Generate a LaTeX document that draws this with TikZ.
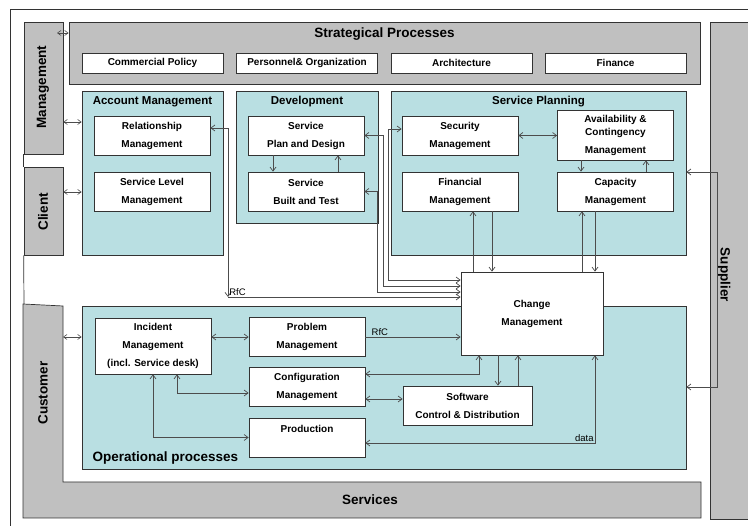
\documentclass[tikz,border=0pt]{standalone}
\usepackage{fontspec}
\setmainfont{Liberation Sans}
\usetikzlibrary{arrows.meta}
\definecolor{procteal}{RGB}{185,223,226}
\definecolor{bargray}{RGB}{192,192,192}

\begin{document}
\begin{tikzpicture}[
  x=1pt, y=-1pt,
  font=\bfseries\fontsize{10}{18}\selectfont,
  >={Straight Barb[length=4pt,width=6pt]},
  box/.style={draw=black!80, fill=white, line width=0.7pt, align=center, inner sep=0pt, minimum width=116pt, minimum height=39pt},
  subbox/.style={box, minimum width=141pt, minimum height=20pt},
  group/.style={draw=black!80, fill=procteal, line width=0.7pt, inner sep=0pt},
  bar/.style={draw=black!80, fill=bargray, line width=0.7pt, inner sep=0pt},
  grouptitle/.style={font=\bfseries\fontsize{11.5}{14}\selectfont},
  bigtitle/.style={font=\bfseries\fontsize{13.5}{16}\selectfont},
  link/.style={draw=black!70, line width=0.7pt},
  tag/.style={font=\fontsize{9.5}{11}\selectfont, inner sep=1pt},
  dbl/.style={draw=black!70, line width=0.6pt, {Straight Barb[length=3.5pt,width=5pt]}-{Straight Barb[length=3.5pt,width=5pt]}}
]
\useasboundingbox (0,0) rectangle (748,526);
\clip (0,0) rectangle (748,526);
\fill[white] (0,0) rectangle (748,526);
\draw[black!80, line width=0.8pt] (10,9) rectangle (780,560);

\node[bar, minimum width=631pt, minimum height=62pt] (strat) at (384.5,53) {};
\node[bigtitle] (stratt) at ([yshift=-12pt]strat.north) {Strategical Processes};
\node[subbox] (cp) at (152.5,63) {Commercial Policy};
\node[subbox] (po) at (307,63) {Personnel\& Organization};
\node[subbox] (arch) at (461.5,63) {Architecture};
\node[subbox] (finance) at (615.5,63) {Finance};

\node[bar, minimum width=39pt, minimum height=132pt] (mgmt) at (43.5,88) {};
\node[bar, minimum width=39pt, minimum height=88pt] (client) at (43.5,211) {};
\node[bar, minimum width=50pt, minimum height=497pt] (supplier) at (735,270.5) {};
\draw[bar] (23,304) -- (63,306) -- (63,482) -- (701,482) -- (701,518) -- (23,518) -- cycle;
\draw[black!80, line width=0.7pt] (mgmt.south west) -- (client.north west);
\draw[black!80, line width=0.7pt] (client.south west) -- (24,304);
\node[bigtitle, rotate=90] (mgmtt) at (43,87) {Management};
\node[bigtitle, rotate=90] (clientt) at (43,212) {Client};
\node[bigtitle, rotate=90] (custt) at (43,393) {Customer};
\node[bigtitle, rotate=-90] (suppt) at (724,275) {Supplier};
\node[bigtitle] (servt) at (370,500) {Services};
\coordinate (cust) at (63,337);

\node[group, minimum width=141pt, minimum height=164pt] (acc) at (152.5,173) {};
\node[grouptitle] (acct) at ([yshift=-11pt]acc.north) {Account Management};
\node[group, minimum width=142pt, minimum height=132pt] (dev) at (307,157) {};
\node[grouptitle] (devt) at ([yshift=-11pt]dev.north) {Development};
\node[group, minimum width=295pt, minimum height=164pt] (splan) at (538.5,173) {};
\node[grouptitle] (splant) at ([yshift=-11pt]splan.north) {Service Planning};
\node[group, minimum width=604pt, minimum height=163pt] (ops) at (384,387.5) {};
\node[bigtitle, anchor=base west] (opst) at (89,462) {Operational processes};

\node[box] (rel) at (152,135.5) {Relationship\\Management};
\node[box] (slm) at (152,191.5) {Service Level\\Management};
\node[box] (design) at (306,135.5) {Service\\Plan and Design};
\node[box] (built) at (306,191.5) {Service\\Built and Test};
\node[box] (sec) at (460,135.5) {Security\\Management};
\node[box] (fin) at (460,191.5) {Financial\\Management};
\node[box, minimum height=50pt] (avail) at (615.5,135) {Availability \&\\[-5pt]Contingency\\Management};
\node[box] (cap) at (615.5,191.5) {Capacity\\Management};

\node[box, minimum height=56pt] (inc) at (153,346) {Incident\\Management\\(incl. Service desk)};
\node[box] (prob) at (307,337) {Problem\\Management};
\node[box] (conf) at (307,387) {Configuration\\Management};
\node[box, text height=8pt, text depth=17pt] (prod) at (307,437.5) {Production};
\node[box, minimum width=129pt] (sw) at (467.5,405.5) {Software\\Control \& Distribution};
\node[box, minimum width=142pt, minimum height=83pt] (change) at (532,313.5) {Change\\Management};

\coordinate (mtop) at (57,33);
\draw[dbl] (mtop) -- (strat.west |- mtop);
\draw[dbl] (mgmt.east |- 0,122) -- (acc.west |- 0,122);
\draw[dbl] (client.east |- 0,192) -- (acc.west |- 0,192);
\draw[dbl] (cust) -- (ops.west |- cust);

\draw[link,->] (design.south -| 273,0) -- (built.north -| 273,0);
\draw[link,->] (built.north -| 338,0) -- (design.south -| 338,0);
\draw[link,<->] (sec.east) -- (sec.east -| avail.west);
\draw[link,->] (avail.south -| 581,0) -- (cap.north -| 581,0);
\draw[link,->] (cap.north -| 646,0) -- (avail.south -| 646,0);
\draw[link,->] (change.north -| 473,0) -- (fin.south -| 473,0);
\draw[link,->] (fin.south -| 492,0) -- (change.north -| 492,0);
\draw[link,->] (change.north -| 582,0) -- (cap.south -| 582,0);
\draw[link,->] (cap.south -| 595,0) -- (change.north -| 595,0);

\coordinate (rfc) at (228,297);
\draw[link,<->] (rel.east |- 0,128) -| (rfc);
\draw[link,->] (rfc) -- (change.west |- rfc) node[tag, pos=0, above right] {RfC};
\draw[link,<->] (sec.west |- 0,129) -| (388,280) -- (change.west |- 0,280);
\draw[link,<->] (design.east) -| (383,286) -- (change.west |- 0,286);
\draw[link,<->] (built.east) -| (377,292) -- (change.west |- 0,292);
\draw[link,<->] (splan.east |- 0,172) -| (717,387) -- (ops.east |- 0,387);

\draw[link,<->] (inc.east |- prob.west) -- (prob.west);
\draw[link,<->] (inc.south -| 177,0) |- (conf.west |- 0,393);
\draw[link,<->] (inc.south -| 153,0) |- (prod.west);
\draw[link,->] (prob.east) -- (change.west |- prob.east) node[tag, pos=0, above right, xshift=5pt] {RfC};
\draw[link,<->] (conf.east |- 0,374) -| (change.south -| 479,0);
\draw[link,<->] (conf.east |- 0,399) -- (sw.west |- 0,399);
\draw[link,->] (change.south -| 498,0) -- (sw.north -| 498,0);
\draw[link,->] (sw.north -| 518,0) -- (change.south -| 518,0);
\draw[link,<->] (prod.east |- 0,443) -| (change.south -| 595,0) node[tag, pos=0.5, above left] {data};
\end{tikzpicture}
\end{document}
